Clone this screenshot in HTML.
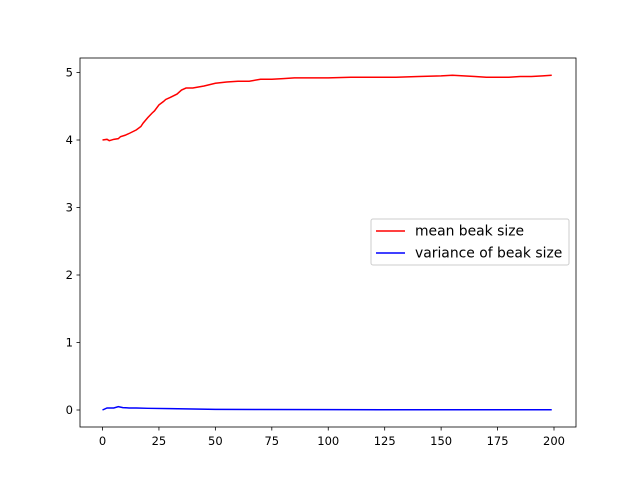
<!DOCTYPE html>
<html><head><meta charset="utf-8"><style>body{margin:0;background:#fff}svg{display:block;font-family:"DejaVu Sans","Liberation Sans",sans-serif}</style></head>
<body>
<svg id="c" width="640" height="480"></svg>
<script>
const meanX=[0,2,3,5,7,8,10,12,15,17,18,20,22,23,25,27,28,30,33,35,37,40,45,50,55,60,65,70,75,80,85,90,100,110,120,130,140,150,155,160,165,170,175,180,185,190,195,199];
const meanY=[4.0,4.01,3.99,4.01,4.02,4.05,4.07,4.1,4.15,4.2,4.25,4.33,4.4,4.43,4.52,4.57,4.6,4.63,4.68,4.74,4.77,4.77,4.8,4.84,4.86,4.87,4.87,4.9,4.9,4.91,4.92,4.92,4.92,4.93,4.93,4.93,4.94,4.95,4.96,4.95,4.94,4.93,4.93,4.93,4.94,4.94,4.95,4.96];
const varX=[0,2,5,7,9,12,15,20,30,40,50,70,100,130,160,199];
const varY=[0,0.03,0.03,0.05,0.035,0.03,0.03,0.025,0.02,0.015,0.01,0.008,0.005,0.004,0.003,0.003];
const xTicks=[0,25,50,75,100,125,150,175,200];
const yTicks=[0,1,2,3,4,5];
const L=80,R=576,T=58,B=427;
const sx=v=>102.5+v*(554-102.5)/200;
const sy=v=>410+v*(72.5-410)/5;
const svg=document.getElementById('c');const NS='http://www.w3.org/2000/svg';
function mk(t,a,p){const e=document.createElementNS(NS,t);for(const k in a)e.setAttribute(k,a[k]);(p||svg).appendChild(e);return e;}
function line(xs,ys,col,name){const p=mk('path',{d:xs.map((x,i)=>(i?'L':'M')+sx(x)+','+sy(ys[i])).join(''),fill:'none',stroke:col,'stroke-width':1.5});

}
line(meanX,meanY,'red','mean-line');
line(varX,varY,'blue','variance-line');
const fr=mk('rect',{x:L,y:T,width:R-L,height:B-T,fill:'none',stroke:'#000','stroke-width':0.8});


xTicks.forEach(v=>{mk('line',{x1:sx(v),x2:sx(v),y1:B,y2:B+3.5,stroke:'#000','stroke-width':0.8});
const t=mk('text',{x:sx(v),y:B+18,'text-anchor':'middle','font-size':11.5});t.textContent=v;

});
yTicks.forEach(v=>{mk('line',{x1:L,x2:L-3.5,y1:sy(v),y2:sy(v),stroke:'#000','stroke-width':0.8});
const t=mk('text',{x:L-7,y:sy(v)+4,'text-anchor':'end','font-size':11.5});t.textContent=v;

});
const g=mk('g',{});


mk('rect',{x:371,y:219,width:198,height:46,fill:'#fff',stroke:'#ccc',rx:2},g);
[['mean beak size','red',231],['variance of beak size','blue',253]].forEach(([s,c,y])=>{
mk('line',{x1:376,x2:405,y1:y,y2:y,stroke:c,'stroke-width':1.5},g);
const t=mk('text',{x:415,y:y+4.5,'font-size':13.9},g);t.textContent=s;

});
</script>
</body></html>
